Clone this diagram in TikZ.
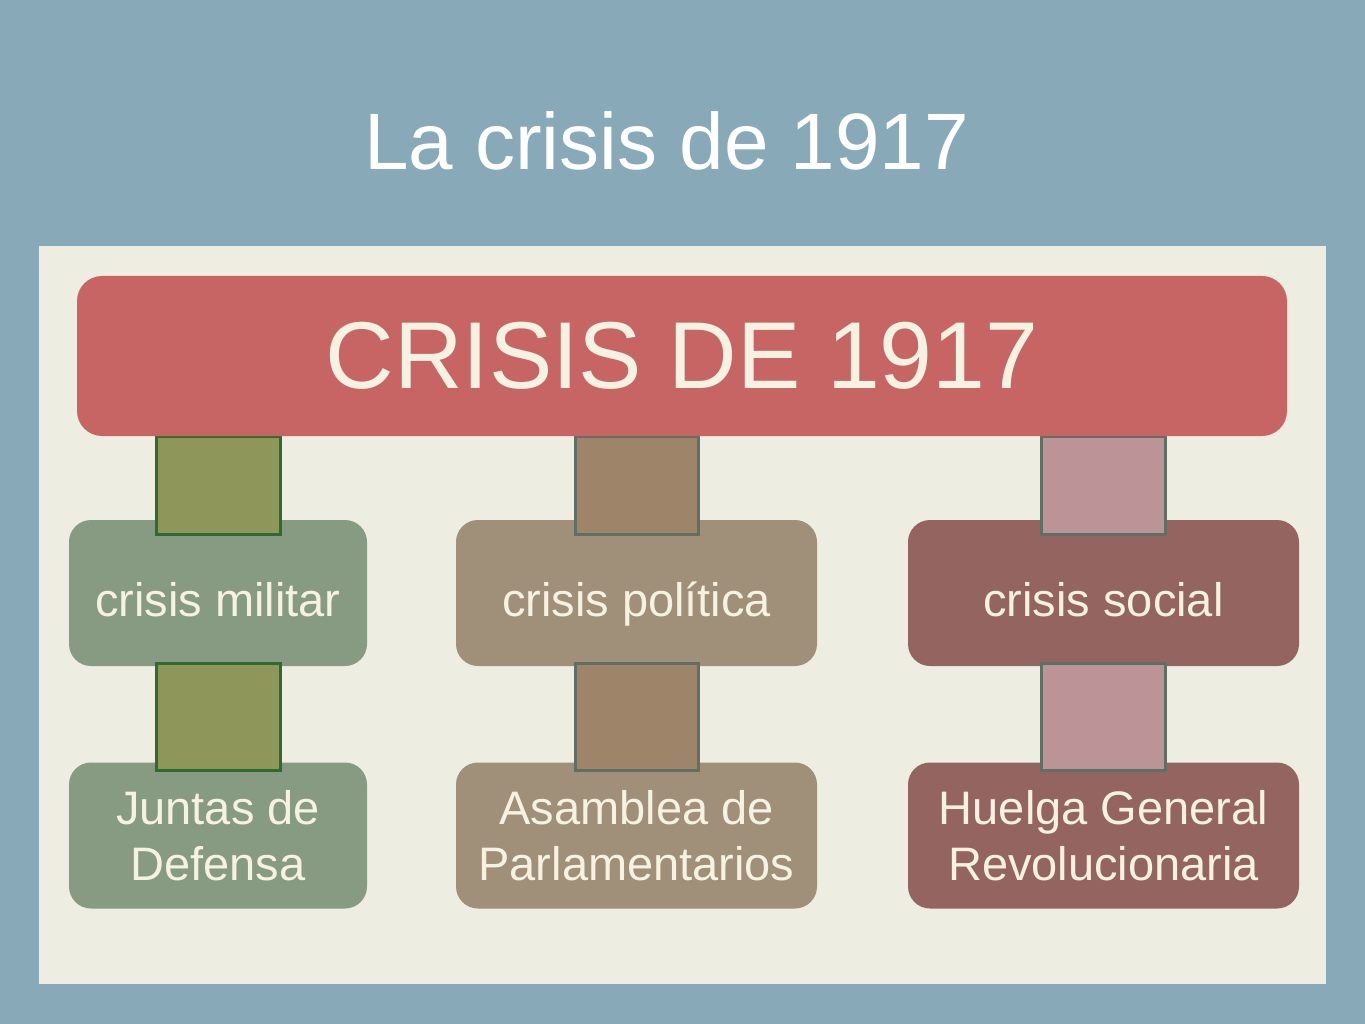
\documentclass[tikz,border=0pt]{standalone}
\usepackage{fontspec}
\setmainfont{Liberation Sans}
\usetikzlibrary{calc}
\definecolor{bgblue}{HTML}{87A9B8}
\definecolor{panel}{HTML}{EDEDE1}
\definecolor{bannerred}{HTML}{C66563}
\definecolor{txtcream}{HTML}{F5F2E1}
\definecolor{boxgreen}{HTML}{879A82}
\definecolor{boxbrown}{HTML}{A08F79}
\definecolor{boxred}{HTML}{946461}
\definecolor{sqgreen}{HTML}{8F965A}
\definecolor{sqgreenline}{HTML}{2F6B30}
\definecolor{sqbrown}{HTML}{9E8468}
\definecolor{sqpink}{HTML}{BC9497}
\definecolor{sqline}{HTML}{5F6F63}
\tikzset{
  panelbox/.style={fill=panel, draw=none},
  bannerbox/.style={fill=bannerred, draw=none, rounded corners=25pt,
    minimum width=1210pt, minimum height=160pt, inner sep=0pt,
    text=txtcream, font=\fontsize{95}{114}\selectfont},
  catbox/.style={draw=none, rounded corners=22pt, minimum height=146pt,
    inner sep=0pt, text=txtcream, align=center,
    font=\fontsize{47}{56.4}\selectfont},
  onel/.style={text height=46pt, text depth=0pt},
  sqL/.style={fill=sqgreen, draw=sqgreenline, line width=3pt},
  sqM/.style={fill=sqbrown, draw=sqline, line width=3pt},
  sqR/.style={fill=sqpink, draw=sqline, line width=3pt},
  titletext/.style={text=white, font=\fontsize{80}{96}\selectfont, inner sep=0pt}
}
\begin{document}
\begin{tikzpicture}[x=1pt, y=-1pt]
  \useasboundingbox (0,0) rectangle (1365,1024);
  \fill[bgblue] (0,0) rectangle (1365,1024);
  \node[titletext] (title) at (666.5,141) {La crisis de 1917};
  \fill[panelbox] (39,246) rectangle (1326,984);

  % level 2
  \node[catbox, onel, fill=boxgreen, minimum width=298pt] (m1) at (218,593) {crisis militar};
  \node[catbox, onel, fill=boxbrown, minimum width=361pt] (m2) at (636.5,593) {crisis política};
  \node[catbox, onel, fill=boxred, minimum width=391pt] (m3) at (1103.5,593) {crisis social};
  % level 3
  \node[catbox, fill=boxgreen, minimum width=298pt] (b1) at (218,835.5) {Juntas de\\Defensa};
  \node[catbox, fill=boxbrown, minimum width=361pt] (b2) at (636.5,835.5) {Asamblea de\\Parlamentarios};
  \node[catbox, fill=boxred, minimum width=391pt] (b3) at (1103.5,835.5) {Huelga General\\Revolucionaria};

  % banner position (for connectors)
  \coordinate (bannersouth) at (682,436);

  % connectors top
  \draw[sqL] ($(m1.north)+(-62,15)$) rectangle ($(bannersouth -| m1.north)+(62,0)$);
  \draw[sqM] ($(m2.north)+(-61.5,15)$) rectangle ($(bannersouth -| m2.north)+(61.5,0)$);
  \draw[sqR] ($(m3.north)+(-62,15)$) rectangle ($(bannersouth -| m3.north)+(62,0)$);
  % connectors bottom
  \draw[sqL] ($(m1.south)+(-62,-3)$) rectangle ($(b1.north)+(62,8)$);
  \draw[sqM] ($(m2.south)+(-61.5,-3)$) rectangle ($(b2.north)+(61.5,8)$);
  \draw[sqR] ($(m3.south)+(-62,-3)$) rectangle ($(b3.north)+(62,8)$);

  % banner
  \node[bannerbox] (banner) at (682,356) {CRISIS DE 1917};
\end{tikzpicture}
\end{document}
